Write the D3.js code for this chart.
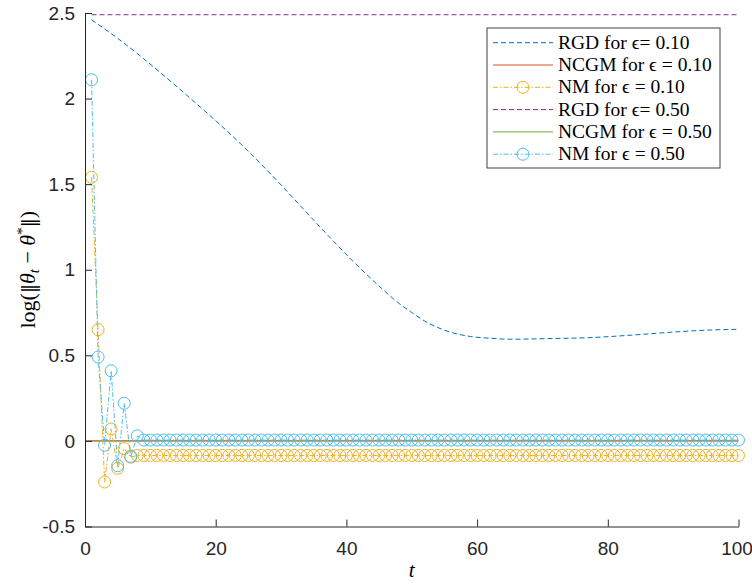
<!DOCTYPE html>
<html><head><meta charset="utf-8">
<script src="https://cdn.jsdelivr.net/npm/d3@7"></script>
<style>body{margin:0;background:#fff}</style>
</head><body><svg id="c" width="752" height="584"></svg>
<script>
// ---- data ----
const tNM = [1,2,3,4,5,6,7,8,9,10,11,12,13,14,15,16,17,18,19,20,21,22,23,24,25,26,27,28,29,30,31,32,33,34,35,36,37,38,39,40,41,42,43,44,45,46,47,48,49,50,51,52,53,54,55,56,57,58,59,60,61,62,63,64,65,66,67,68,69,70,71,72,73,74,75,76,77,78,79,80,81,82,83,84,85,86,87,88,89,90,91,92,93,94,95,96,97,98,99,100];
const nm10 = [1.54,0.65,-0.24,0.07,-0.16,-0.045,-0.095,-0.085,-0.085,-0.085,-0.085,-0.085,-0.085,-0.085,-0.085,-0.085,-0.085,-0.085,-0.085,-0.085,-0.085,-0.085,-0.085,-0.085,-0.085,-0.085,-0.085,-0.085,-0.085,-0.085,-0.085,-0.085,-0.085,-0.085,-0.085,-0.085,-0.085,-0.085,-0.085,-0.085,-0.085,-0.085,-0.085,-0.085,-0.085,-0.085,-0.085,-0.085,-0.085,-0.085,-0.085,-0.085,-0.085,-0.085,-0.085,-0.085,-0.085,-0.085,-0.085,-0.085,-0.085,-0.085,-0.085,-0.085,-0.085,-0.085,-0.085,-0.085,-0.085,-0.085,-0.085,-0.085,-0.085,-0.085,-0.085,-0.085,-0.085,-0.085,-0.085,-0.085,-0.085,-0.085,-0.085,-0.085,-0.085,-0.085,-0.085,-0.085,-0.085,-0.085,-0.085,-0.085,-0.085,-0.085,-0.085,-0.085,-0.085,-0.085,-0.085,-0.085];
const nm50 = [2.11,0.49,-0.025,0.41,-0.145,0.22,-0.09,0.03,0.005,0.005,0.005,0.005,0.005,0.005,0.005,0.005,0.005,0.005,0.005,0.005,0.005,0.005,0.005,0.005,0.005,0.005,0.005,0.005,0.005,0.005,0.005,0.005,0.005,0.005,0.005,0.005,0.005,0.005,0.005,0.005,0.005,0.005,0.005,0.005,0.005,0.005,0.005,0.005,0.005,0.005,0.005,0.005,0.005,0.005,0.005,0.005,0.005,0.005,0.005,0.005,0.005,0.005,0.005,0.005,0.005,0.005,0.005,0.005,0.005,0.005,0.005,0.005,0.005,0.005,0.005,0.005,0.005,0.005,0.005,0.005,0.005,0.005,0.005,0.005,0.005,0.005,0.005,0.005,0.005,0.005,0.005,0.005,0.005,0.005,0.005,0.005,0.005,0.005,0.005,0.005];
const tRGD = [1,5,9,13,17,21,25,29,33,37,41,45,48,50,52,55,59,62,65,71,77,84,90,95,100];
const rgd10 = [2.46,2.352,2.232,2.104,1.972,1.836,1.692,1.536,1.372,1.208,1.05,0.905,0.805,0.75,0.70,0.647,0.61,0.60,0.594,0.598,0.603,0.619,0.636,0.647,0.652];
const rgd50 = [2.49,2.49,2.49,2.49,2.49,2.49,2.49,2.49,2.49,2.49,2.49,2.49,2.49,2.49,2.49,2.49,2.49,2.49,2.49,2.49,2.49,2.49,2.49,2.49,2.49];
const tNCGM = [0,100];
const ncgm10 = [0,0];
const ncgm50 = [0,0];
const xTicks = [0,20,40,60,80,100];
const yTicks = [-0.5,0,0.5,1,1.5,2,2.5];
const legendLabels = ["RGD for \u03f5= 0.10","NCGM for \u03f5 = 0.10","NM for \u03f5 = 0.10","RGD for \u03f5= 0.50","NCGM for \u03f5 = 0.50","NM for \u03f5 = 0.50"];

// ---- drawing ----
const svg = d3.select("#c");
const L = 85, R = 738.5, T = 13, B = 526.5;
const x = d3.scaleLinear().domain([0,100]).range([L,R]);
const y = d3.scaleLinear().domain([-0.5,2.5]).range([B,T]);
const axCol = "#262626";
const C = {blue:"#0072BD", red:"#D95319", yellow:"#EDB120", purple:"#7E2F8E", green:"#77AC30", cyan:"#4DBEEE"};
const DASH = "5,3", DASHDOT = "5,2,1.5,2";

const line = (xs, ys) => d3.line().x((d,i)=>x(xs[i])).y(d=>y(d))(ys);
const smooth = (xs, ys) => d3.line().curve(d3.curveMonotoneX).x((d,i)=>x(xs[i])).y(d=>y(d))(ys);

const g = svg.append("g");
g.append("path").attr("d", smooth(tRGD, rgd10)).attr("fill","none").attr("stroke",C.blue).attr("stroke-width",1).attr("stroke-dasharray",DASH);
g.append("path").attr("d", line(tNCGM, ncgm50)).attr("fill","none").attr("stroke",C.green).attr("stroke-width",1);
g.append("path").attr("d", line(tNCGM, ncgm10)).attr("fill","none").attr("stroke",C.red).attr("stroke-width",1);
g.append("path").attr("d", line(tNM, nm10)).attr("fill","none").attr("stroke",C.yellow).attr("stroke-width",1).attr("stroke-dasharray",DASHDOT);
g.selectAll(".m10").data(nm10).enter().append("circle").attr("cx",(d,i)=>x(tNM[i])).attr("cy",d=>y(d)).attr("r",6).attr("fill","none").attr("stroke",C.yellow).attr("stroke-width",1);
g.append("path").attr("d", line(tRGD, rgd50)).attr("fill","none").attr("stroke",C.purple).attr("stroke-width",1).attr("stroke-dasharray",DASH);
g.append("path").attr("d", line(tNM, nm50)).attr("fill","none").attr("stroke",C.cyan).attr("stroke-width",1).attr("stroke-dasharray",DASHDOT);
g.selectAll(".m50").data(nm50).enter().append("circle").attr("cx",(d,i)=>x(tNM[i])).attr("cy",d=>y(d)).attr("r",6).attr("fill","none").attr("stroke",C.cyan).attr("stroke-width",1);

// axes
const xAxis = d3.axisBottom(x).tickValues(xTicks).tickSizeInner(-7).tickSizeOuter(0).tickPadding(15).tickFormat(d3.format("d"));
const yAxis = d3.axisLeft(y).tickValues(yTicks).tickSizeInner(-7).tickSizeOuter(0).tickPadding(10).tickFormat(d=>String(d));
const gx = svg.append("g").attr("transform",`translate(0,${B})`).call(xAxis);
const gy = svg.append("g").attr("transform",`translate(${L},0)`).call(yAxis);
[gx,gy].forEach(a=>{
  a.select(".domain").attr("stroke",axCol).attr("stroke-width",1);
  a.selectAll(".tick line").attr("stroke",axCol).attr("stroke-width",1);
  a.selectAll(".tick text").attr("fill",axCol).style("font-family","'Liberation Sans', Arial, sans-serif").style("font-size","19px");
});
gx.selectAll(".tick text").filter(d=>d===100).attr("dx",-2);

// axis labels
svg.append("text").attr("x",(L+R)/2).attr("y",577).attr("text-anchor","middle")
  .style("font-family","'Liberation Serif',serif").style("font-size","21px").style("font-style","italic").attr("fill","#000").text("t");
const yl = svg.append("text").attr("transform",`translate(35,${(T+B)/2}) rotate(-90)`).attr("text-anchor","middle")
  .style("font-family","'Liberation Serif',serif").style("font-size","22px").attr("fill","#000");
yl.append("tspan").text("log(");
yl.append("tspan").style("font-family","'DejaVu Serif',serif").style("font-size","18px").text("\u2016");
yl.append("tspan").style("font-style","italic").text("\u03b8");
yl.append("tspan").attr("dy",4).style("font-size","15px").style("font-style","italic").text("t");
yl.append("tspan").attr("dy",-4).text(" \u2212 ");
yl.append("tspan").style("font-style","italic").text("\u03b8");
yl.append("tspan").attr("dy",-8).style("font-size","15px").text("*");
yl.append("tspan").attr("dy",8).style("font-family","'DejaVu Serif',serif").style("font-size","18px").text("\u2016");
yl.append("tspan").text(")");

// legend
const lg = svg.append("g");
const lx = 487, ly = 28, lw = 233, lh = 140;
lg.append("rect").attr("x",lx).attr("y",ly).attr("width",lw).attr("height",lh).attr("fill","#fff").attr("stroke","#404040").attr("stroke-width",1);
const legStyle = [
  {c:C.blue, dash:DASH, m:false},
  {c:C.red, dash:null, m:false},
  {c:C.yellow, dash:DASHDOT, m:true},
  {c:C.purple, dash:DASH, m:false},
  {c:C.green, dash:null, m:false},
  {c:C.cyan, dash:DASHDOT, m:true}
];
legendLabels.forEach((lab,i)=>{
  const cy = 42.7 + i*22.3;
  const s = legStyle[i];
  const ln = lg.append("line").attr("x1",493).attr("x2",553).attr("y1",cy).attr("y2",cy).attr("stroke",s.c).attr("stroke-width",1);
  if (s.dash) ln.attr("stroke-dasharray",s.dash);
  if (s.m) lg.append("circle").attr("cx",523).attr("cy",cy).attr("r",6).attr("fill","none").attr("stroke",s.c).attr("stroke-width",1);
  lg.append("text").attr("x",558).attr("y",cy+6).style("font-family","'Liberation Serif',serif").style("font-size","19.5px").attr("fill","#000").text(lab);
});
</script></body></html>
